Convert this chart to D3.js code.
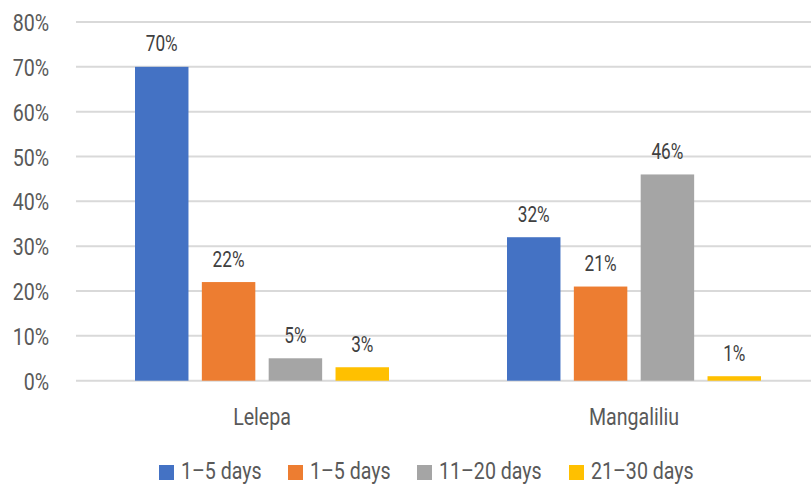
<!DOCTYPE html>
<html><head><meta charset="utf-8">
<script src="https://cdn.jsdelivr.net/npm/d3@7"></script>
<style>
body{margin:0;background:#fff;}
text{font-family:Roboto,"Noto Sans",sans-serif;}
</style></head><body>
<svg id="c" width="811" height="484"></svg>
<script>
const categories = ["Lelepa", "Mangaliliu"];
const seriesNames = ["1–5 days", "1–5 days", "11–20 days", "21–30 days"];
const seriesColors = ["#4472C4", "#ED7D31", "#A5A5A5", "#FFC000"];
const values = [
  [70, 32],
  [22, 21],
  [5, 46],
  [3, 1]
];
const yTicks = [0, 10, 20, 30, 40, 50, 60, 70, 80];

const SX = 0.8; // horizontal condensing to mimic a condensed face
const svg = d3.select("#c");
const x0 = d3.scaleBand().domain(categories).range([76, 820]);
const x1 = d3.scaleBand().domain(d3.range(seriesNames.length)).range([59, 372 - 59]).paddingInner(0.2).paddingOuter(0);
const y = d3.scaleLinear().domain([0, 80]).range([380.7, 22]);

function label(g, x, yy, txt, size, fill, anchor) {
  return g.append("text")
    .attr("transform", `translate(${x},${yy}) scale(${SX},1)`)
    .attr("text-anchor", anchor || "middle")
    .attr("font-size", size).attr("fill", fill)
    .text(txt);
}

// grid
svg.append("g").selectAll("line").data(yTicks).join("line")
  .attr("x1", 76).attr("x2", 811)
  .attr("y1", d => y(d)).attr("y2", d => y(d))
  .attr("stroke", "#D9D9D9").attr("stroke-width", 2);

// y labels
const gy = svg.append("g");
yTicks.forEach(t => label(gy, 49, y(t) + 9, t + "%", 24.5, "#595959", "end"));

// bars
const gb = svg.append("g");
const gl = svg.append("g");
categories.forEach((c, ci) => {
  seriesNames.forEach((s, si) => {
    const v = values[si][ci];
    const bx = x0(c) + x1(si);
    gb.append("rect")
      .attr("x", bx).attr("width", x1.bandwidth())
      .attr("y", y(v)).attr("height", y(0) - y(v))
      .attr("fill", seriesColors[si]);
    label(gl, bx + x1.bandwidth() / 2, y(v) - 15.5, v + "%", 21.5, "#404040");
  });
});

// category labels
const gx = svg.append("g");
categories.forEach(c => label(gx, x0(c) + x0.bandwidth() / 2, 425, c, 24.5, "#595959"));

// legend
const legX = [159, 288, 417, 569];
const leg = svg.append("g");
seriesNames.forEach((s, i) => {
  leg.append("rect").attr("x", legX[i]).attr("y", 465).attr("width", 15).attr("height", 15).attr("fill", seriesColors[i]);
  label(leg, legX[i] + 22, 479, s, 24.5, "#595959", "start");
});
</script>
</body></html>
